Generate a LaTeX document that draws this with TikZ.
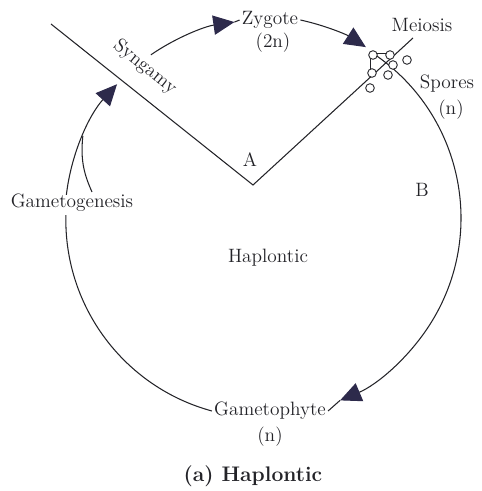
\documentclass[tikz,border=0pt]{standalone}
\usepackage{xcolor}
\usetikzlibrary{arrows.meta}
\definecolor{tipink}{RGB}{45,42,75}
\definecolor{lineink}{RGB}{35,35,40}

\begin{document}
\begin{tikzpicture}[>={Triangle[length=12pt,width=11pt,color=tipink]},every node/.style={font=\fontsize{11}{13}\selectfont,text=lineink,inner sep=1pt},line width=.6pt,x=0.02cm,y=0.02cm,draw=lineink]
\useasboundingbox (0,0) rectangle (481,491);
\coordinate (ctr) at (263,273);
% labels
\node (zyg) at (270,471) {Zygote};
\node (zygn) at (273,448) {(2n)};
\node (mei) at (422,466) {Meiosis};
\node (spo) at (447,407) {Spores};
\node (spon) at (451,381) {(n)};
\node (gph) at (270,80) {Gametophyte};
\node (gphn) at (270,54) {(n)};
\node (gam) at (72,288) {Gametogenesis};
\node[rotate=-38.6,inner sep=0pt] (syn) at (145,424) {Syngamy};
\node (lblA) at (250,331) {A};
\node (lblB) at (422,301) {B};
\node (hap) at (268,233) {Haplontic};
\node[font=\fontsize{12}{14}\selectfont\bfseries] (cap) at (253,15) {(a) Haplontic};
% the V of syngamy and meiosis
\coordinate (synS) at (51,467);
\coordinate (vtx) at (253,306);
\coordinate (meiE) at (413,453);
\draw (synS)--(vtx)--(meiE);
% arrow tips on the cycle
\coordinate (tipS) at ([shift={(137.5:198)}]ctr);
\coordinate (tipZ) at ([shift={(98.3:198)}]ctr);
\coordinate (tipM) at ([shift={(57.2:198)}]ctr);
\coordinate (tipG) at ([shift={(-67.1:198)}]ctr);
% cycle
\draw[->] ([shift={(173.3:198)}]ctr) arc[start angle=173.3,end angle=137.5,radius=198];
\draw[->] ([shift={(124.5:198)}]ctr) arc[start angle=124.5,end angle=98.3,radius=198];
\draw (tipZ)--(zyg.west);
\draw[->] (zyg.east) arc[start angle=77.8,end angle=57.2,radius=198];
\draw[->] (tipM) arc[start angle=57.2,end angle=-67.1,radius=198];
\draw (tipG)--(gph.east);
\draw (gph.west) arc[start angle=254.8,end angle=178.6,radius=198];
\draw ([shift={(155.5:198)}]ctr) to[bend right=15] ([xshift=0.4cm]gam.north);
% spores
\draw[line width=.5pt] (370,438)--(390,438);
\draw[line width=.5pt] (370,438)--(370,418);
\foreach \p in {(373,436),(390,436),(407,431),(393,426),(372,418),(388,416),(370,403)}
  \draw[line width=.5pt,fill=white] \p circle[radius=4.3];
\end{tikzpicture}
\end{document}
